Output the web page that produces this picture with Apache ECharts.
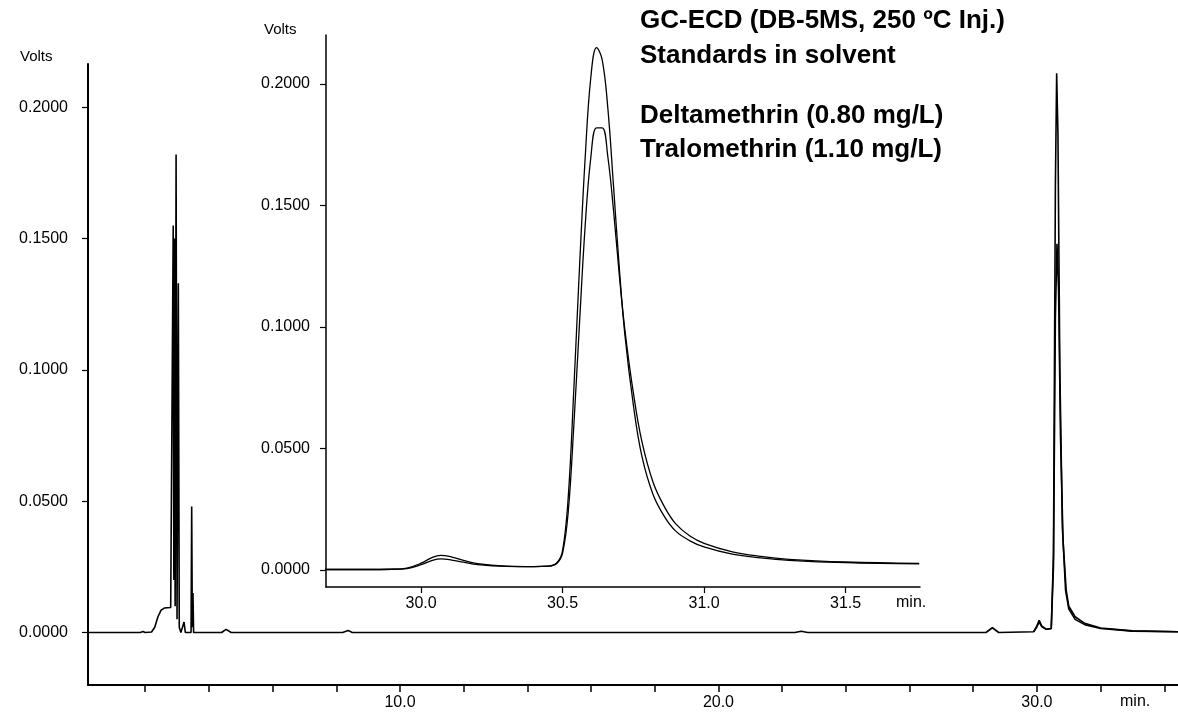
<!DOCTYPE html>
<html>
<head>
<meta charset="utf-8">
<script src="https://cdn.jsdelivr.net/npm/echarts@6/dist/echarts.min.js"></script>
<style>
html,body{margin:0;padding:0;background:#fff;}
#chart{width:1178px;height:714px;}
</style>
</head>
<body>
<div id="chart"></div>
<script>
// ---------- data ----------
// Main chromatogram (time in min, signal in Volts)
const mainTime  = [0.2, 1.5, 1.85, 1.93, 2.0, 2.2, 2.3, 2.4, 2.5, 2.6, 2.8, 2.86, 2.88, 2.90, 2.92, 2.94, 2.97, 3.00, 3.04, 3.07, 3.12, 3.22, 3.26, 3.44, 3.46, 3.48, 3.50, 3.52, 4.4, 4.54, 4.7, 8.2, 8.37, 8.5, 22.4, 22.6, 22.8, 28.4, 28.6, 28.8, 29.9, 30.0, 30.07, 30.15, 30.3, 30.45, 30.52, 30.58, 30.62, 30.66, 30.72, 30.8, 30.9, 31.0, 31.2, 31.5, 32.0, 33.0, 34.43];
const mainVolts = [0.0, 0.0, 0.0, 0.0004, 0.0, 0.0002, 0.002, 0.006, 0.0085, 0.0093, 0.0095, 0.0098, 0.155, 0.020, 0.150, 0.010, 0.182, 0.005, 0.133, 0.002, 0.000, 0.004, 0.000, 0.000, 0.048, 0.002, 0.015, 0.000, 0.0, 0.0012, 0.0, 0.0, 0.0008, 0.0, 0.0, 0.0005, 0.0, 0.0, 0.0018, 0.0, 0.0003, 0.0025, 0.0046, 0.0025, 0.0012, 0.0015, 0.030, 0.170, 0.213, 0.190, 0.100, 0.040, 0.016, 0.009, 0.005, 0.003, 0.0015, 0.0005, 0.0003];
// Second overlaid trace around the late peak
const mainTimeB  = [29.9, 30.0, 30.07, 30.15, 30.3, 30.45, 30.52, 30.58, 30.63, 30.68, 30.74, 30.82, 30.92, 31.0, 31.2, 31.5, 32.0, 33.0, 34.43];
const mainVoltsB = [0.0003, 0.0022, 0.0040, 0.0022, 0.0012, 0.0015, 0.025, 0.120, 0.148, 0.130, 0.075, 0.035, 0.016, 0.010, 0.006, 0.0035, 0.0017, 0.0006, 0.0003];

// Inset (zoom on 29.7 - 31.8 min)
const insetTime   = [29.66, 29.80, 29.90, 29.95, 30.00, 30.04, 30.07, 30.10, 30.15, 30.20, 30.30, 30.40, 30.45, 30.48, 30.50, 30.52, 30.54, 30.56, 30.58, 30.60, 30.62, 30.64, 30.66, 30.68, 30.70, 30.72, 30.75, 30.78, 30.82, 30.86, 30.90, 30.95, 31.00, 31.10, 31.20, 31.30, 31.50, 31.76];
const deltaVolts  = [0.0002, 0.0002, 0.0003, 0.0006, 0.0022, 0.0040, 0.0046, 0.0043, 0.0032, 0.0022, 0.0015, 0.0014, 0.0016, 0.0030, 0.0080, 0.030, 0.075, 0.125, 0.170, 0.203, 0.215, 0.210, 0.190, 0.158, 0.125, 0.097, 0.068, 0.047, 0.031, 0.022, 0.016, 0.012, 0.0095, 0.0065, 0.0050, 0.0040, 0.0030, 0.0025];
const traloVolts  = [0.0002, 0.0002, 0.0003, 0.0008, 0.0028, 0.0052, 0.0060, 0.0056, 0.0040, 0.0026, 0.0016, 0.0014, 0.0016, 0.0028, 0.0070, 0.024, 0.060, 0.102, 0.142, 0.170, 0.182, 0.182, 0.170, 0.148, 0.122, 0.099, 0.073, 0.053, 0.036, 0.026, 0.019, 0.014, 0.011, 0.0075, 0.0056, 0.0044, 0.0033, 0.0027];

// ticks and labels
const mainXTicks  = [2, 4, 6, 8, 10, 12, 14, 16, 18, 20, 22, 24, 26, 28, 30, 32, 34];
const mainXLabels = [10, 20, 30];
const yLabels     = [0, 0.05, 0.10, 0.15, 0.20];
const insetXTicks = [30.0, 30.5, 31.0, 31.5];

const titleLines = ['GC-ECD (DB-5MS, 250 ºC Inj.)', 'Standards in solvent', '', 'Deltamethrin (0.80 mg/L)', 'Tralomethrin (1.10 mg/L)'];

// ---------- chart ----------
const FONT = '"Liberation Sans", Arial, Helvetica, sans-serif';
const zip = (xs, ys) => xs.map((x, i) => [x, ys[i]]);

const chart = echarts.init(document.getElementById('chart'), null, {renderer: 'canvas'});

const axisLine = w => ({show: true, onZero: false, lineStyle: {color: '#000', width: w}});

const option = {
  animation: false,
  backgroundColor: '#fff',
  grid: [
    {left: 88, right: 0, top: 64, bottom: 29},
    {left: 326, right: 258, top: 35, bottom: 127}
  ],
  xAxis: [
    {
      gridIndex: 0, type: 'value', min: 0.204, max: 34.43,
      axisLine: axisLine(2),
      axisTick: {show: true, customValues: mainXTicks, length: 7, lineStyle: {color: '#000', width: 1.5}},
      axisLabel: {customValues: mainXLabels, formatter: v => v.toFixed(1), color: '#000', fontFamily: FONT, fontSize: 16, margin: 10},
      splitLine: {show: false}
    },
    {
      gridIndex: 1, type: 'value', min: 29.664, max: 31.763,
      axisLine: axisLine(1.5),
      axisTick: {show: true, customValues: insetXTicks, length: 6, lineStyle: {color: '#000', width: 1.2}},
      axisLabel: {customValues: insetXTicks, formatter: v => v.toFixed(1), color: '#000', fontFamily: FONT, fontSize: 16, margin: 9},
      splitLine: {show: false}
    }
  ],
  yAxis: [
    {
      gridIndex: 0, type: 'value', min: -0.02, max: 0.2165,
      axisLine: axisLine(2),
      axisTick: {show: true, customValues: yLabels, length: 6, lineStyle: {color: '#000', width: 1.2}},
      axisLabel: {customValues: yLabels, formatter: v => v.toFixed(4), color: '#000', fontFamily: FONT, fontSize: 16, margin: 20},
      splitLine: {show: false}
    },
    {
      gridIndex: 1, type: 'value', min: -0.007, max: 0.2202,
      axisLine: axisLine(1.5),
      axisTick: {show: true, customValues: yLabels, length: 6, lineStyle: {color: '#000', width: 1.2}},
      axisLabel: {customValues: yLabels, formatter: v => v.toFixed(4), color: '#000', fontFamily: FONT, fontSize: 16, margin: 16},
      splitLine: {show: false}
    }
  ],
  series: [
    {type: 'line', xAxisIndex: 0, yAxisIndex: 0, data: zip(mainTime, mainVolts), showSymbol: false,
     lineStyle: {color: '#000', width: 1.6}, z: 3},
    {type: 'line', xAxisIndex: 0, yAxisIndex: 0, data: zip(mainTimeB, mainVoltsB), showSymbol: false,
     lineStyle: {color: '#000', width: 1.6}, z: 3},
    {type: 'line', xAxisIndex: 1, yAxisIndex: 1, data: zip(insetTime, deltaVolts), showSymbol: false,
     smooth: 0.4, lineStyle: {color: '#000', width: 1.3}, z: 4},
    {type: 'line', xAxisIndex: 1, yAxisIndex: 1, data: zip(insetTime, traloVolts), showSymbol: false,
     smooth: 0.4, lineStyle: {color: '#000', width: 1.3}, z: 4}
  ],
  graphic: [
    {type: 'text', left: 20, top: 49, style: {text: 'Volts', fill: '#000', font: '15px ' + FONT}},
    {type: 'text', left: 264, top: 22, style: {text: 'Volts', fill: '#000', font: '15px ' + FONT}},
    {type: 'text', left: 1120, top: 694, style: {text: 'min.', fill: '#000', font: '16px ' + FONT}},
    {type: 'text', left: 896, top: 595, style: {text: 'min.', fill: '#000', font: '16px ' + FONT}},
    {type: 'text', left: 640, top: 8, style: {text: titleLines[0], fill: '#000', font: 'bold 26px ' + FONT}},
    {type: 'text', left: 640, top: 43, style: {text: titleLines[1], fill: '#000', font: 'bold 26px ' + FONT}},
    {type: 'text', left: 640, top: 103, style: {text: titleLines[3], fill: '#000', font: 'bold 26px ' + FONT}},
    {type: 'text', left: 640, top: 137, style: {text: titleLines[4], fill: '#000', font: 'bold 26px ' + FONT}}
  ]
};
chart.setOption(option);
</script>
</body>
</html>
